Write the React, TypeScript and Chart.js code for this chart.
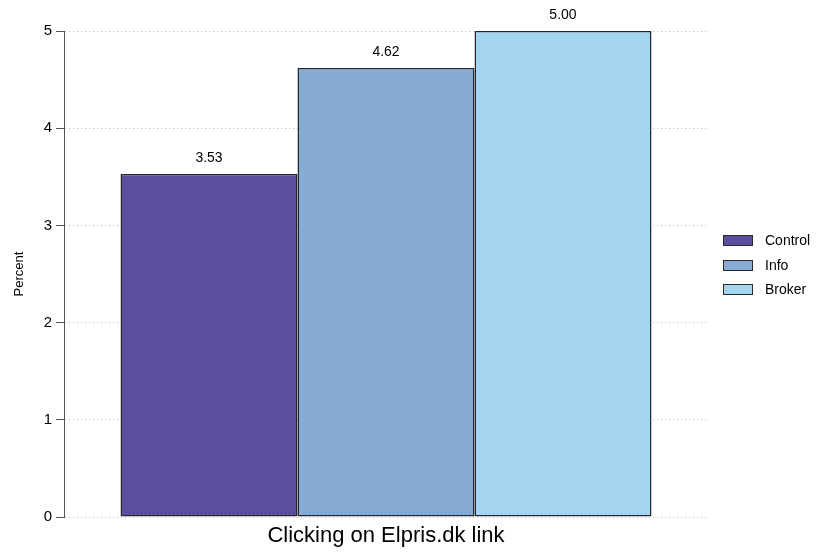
import React, { useEffect, useRef } from "react";
import { Chart, registerables } from "chart.js";

Chart.register(...registerables);

const categories = ["Clicking on Elpris.dk link"];
const seriesNames = ["Control", "Info", "Broker"];
const seriesValues = [3.53, 4.62, 5.0];
const seriesColors = ["#5B4E9E", "#86ABD5", "#A3D5F1"];
const yTicks = [0, 1, 2, 3, 4, 5];

const FONT = "'Liberation Sans', Arial, Helvetica, sans-serif";

const valueLabels = {
  id: "valueLabels",
  afterDatasetsDraw(chart: any) {
    const ctx = chart.ctx;
    ctx.save();
    ctx.font = `14px ${FONT}`;
    ctx.fillStyle = "#000";
    ctx.textAlign = "center";
    ctx.textBaseline = "middle";
    chart.data.datasets.forEach((ds: any, i: number) => {
      const meta = chart.getDatasetMeta(i);
      meta.data.forEach((bar: any, j: number) => {
        const v = ds.data[j];
        ctx.fillText(v.toFixed(2), bar.x, bar.y - 16);
      });
    });
    ctx.restore();
  },
};

const sideLegend = {
  id: "sideLegend",
  afterDraw(chart: any) {
    const ctx = chart.ctx;
    const area = chart.chartArea;
    const center = (area.top + area.bottom) / 2;
    const x0 = area.right + 15;
    const spacing = 24.5;
    const start = center - 34;
    ctx.save();
    ctx.font = `14px ${FONT}`;
    ctx.textBaseline = "middle";
    ctx.textAlign = "left";
    chart.data.datasets.forEach((ds: any, i: number) => {
      const cy = Math.round(start + i * spacing);
      ctx.fillStyle = ds.backgroundColor;
      ctx.fillRect(x0, cy - 5, 30, 11);
      ctx.strokeStyle = "#2a2a2a";
      ctx.lineWidth = 1;
      ctx.strokeRect(x0 + 0.5, cy - 4.5, 29, 10);
      ctx.fillStyle = "#000";
      ctx.fillText(ds.label, x0 + 42, cy + 1);
    });
    ctx.restore();
  },
};

export default function App() {
  const ref = useRef<HTMLCanvasElement>(null);
  useEffect(() => {
    if (!ref.current) return;
    Chart.defaults.font.family = FONT;
    const chart = new Chart(ref.current, {
      type: "bar",
      data: {
        labels: categories,
        datasets: seriesNames.map((name, i) => ({
          label: name,
          data: [seriesValues[i]],
          backgroundColor: seriesColors[i],
          borderColor: "#25252e",
          borderWidth: 1.5,
          borderSkipped: false,
          categoryPercentage: 0.8245,
          barPercentage: 1,
        })),
      },
      options: {
        animation: false,
        responsive: false,
        layout: { padding: { left: 0, right: 111, top: 31, bottom: 0 } },
        plugins: {
          legend: { display: false },
          tooltip: { enabled: false },
        },
        scales: {
          x: {
            grid: { display: false, drawTicks: false },
            border: { display: false },
            ticks: { font: { size: 22 }, color: "#000", padding: 6 },
            afterFit: (s: any) => {
              s.height = 35;
            },
          },
          y: {
            min: 0,
            max: 5,
            afterBuildTicks: (s: any) => {
              s.ticks = yTicks.map((v) => ({ value: v }));
            },
            ticks: { font: { size: 15 }, color: "#000", padding: 4 },
            grid: {
              color: "#b8b8b8",
              tickColor: "#555",
              tickBorderDash: [],
              tickLength: 8,
              drawTicks: true,
            },
            border: { display: true, color: "#555", width: 1, dash: [1, 3] },
            title: {
              display: true,
              text: "Percent",
              font: { size: 13 },
              color: "#000",
              padding: { top: 12, bottom: 0 },
            },
            afterFit: (s: any) => {
              s.width = 64;
            },
          },
        },
      },
      plugins: [valueLabels, sideLegend],
    });
    return () => chart.destroy();
  }, []);
  return (
    <div style={{ position: "absolute", left: 0, top: 0, width: 819, height: 552 }}>
      <canvas ref={ref} width={819} height={552} style={{ display: "block" }} />
    </div>
  );
}
